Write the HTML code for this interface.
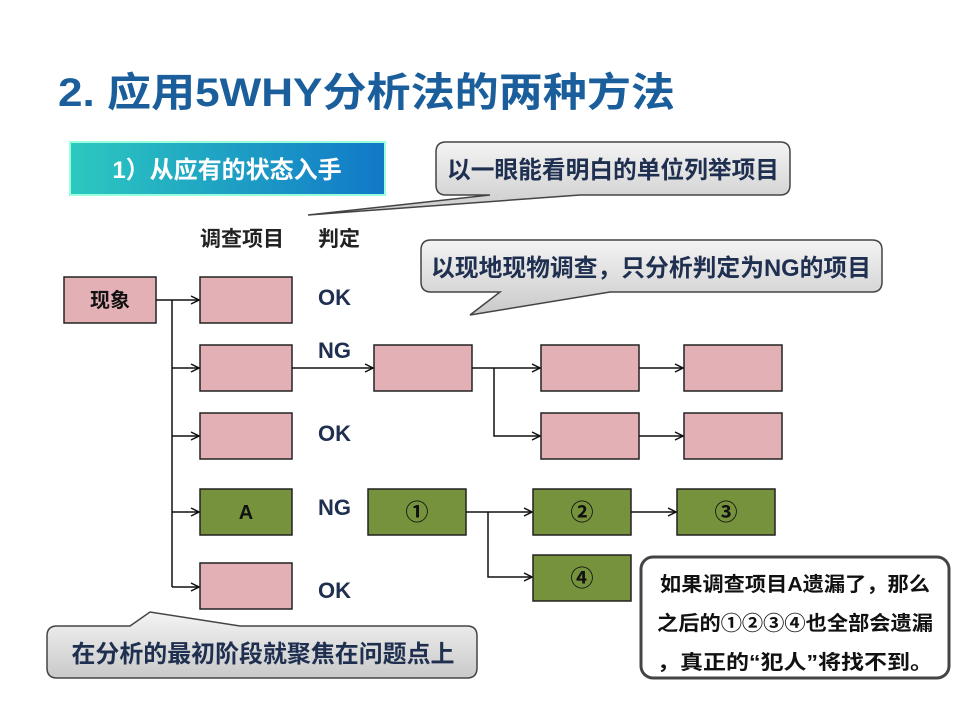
<!DOCTYPE html>
<html><head><meta charset="utf-8"><style>
html,body{margin:0;padding:0;background:#fff;}
svg{display:block;font-family:"Liberation Sans","Noto Sans CJK SC",sans-serif;font-weight:bold;}
</style></head><body>
<svg width="960" height="720" viewBox="0 0 960 720" xmlns="http://www.w3.org/2000/svg">
<defs>
<linearGradient id="teal" x1="0" y1="0" x2="1" y2="0">
<stop offset="0" stop-color="#2cc9c0"/><stop offset="1" stop-color="#1178c8"/></linearGradient>
<linearGradient id="grey" x1="0" y1="0" x2="0" y2="1">
<stop offset="0" stop-color="#f4f4f4"/><stop offset="1" stop-color="#c9c9c9"/></linearGradient>
<marker id="ar" markerWidth="10" markerHeight="10" refX="9" refY="5" orient="auto" markerUnits="userSpaceOnUse">
<path d="M1,1 L9,5 L1,9" fill="none" stroke="#111" stroke-width="1.5"/></marker>
</defs>
<text x="58" y="106" font-size="40" fill="#1b5e9c" textLength="617" lengthAdjust="spacingAndGlyphs">2. 应用5WHY分析法的两种方法</text>

<rect x="70" y="142" width="315" height="53" fill="url(#teal)" stroke="#9fd" stroke-width="2"/>
<text x="227" y="178" font-size="24" fill="#fff" text-anchor="middle">1）从应有的状态入手</text>

<path d="M446,142 H780 Q790,142 790,152 V185 Q790,195 780,195 H580 L308,215 L490,195 H446 Q436,195 436,185 V152 Q436,142 446,142 Z" fill="url(#grey)" stroke="#444" stroke-width="1.5"/>
<text x="613" y="178" font-size="24" fill="#1f2f4f" text-anchor="middle" textLength="332" lengthAdjust="spacingAndGlyphs">以一眼能看明白的单位列举项目</text>
<path d="M431,240 H872 Q882,240 882,250 V282 Q882,292 872,292 H610 L470,315 L500,292 H431 Q421,292 421,282 V250 Q421,240 431,240 Z" fill="url(#grey)" stroke="#444" stroke-width="1.5"/>
<text x="651" y="276" font-size="24" fill="#1f2f4f" text-anchor="middle" textLength="440" lengthAdjust="spacingAndGlyphs">以现地现物调查，只分析判定为NG的项目</text>

<text x="200" y="246" font-size="21" fill="#222">调查项目</text>
<text x="318" y="246" font-size="21" fill="#222">判定</text>

<g stroke="#222" stroke-width="1.5">
<rect x="64" y="277" width="92" height="46" fill="#e3b0b5"/>
<rect x="200" y="277" width="92" height="46" fill="#e3b0b5"/>
<rect x="200" y="345" width="92" height="46" fill="#e3b0b5"/>
<rect x="200" y="413" width="92" height="46" fill="#e3b0b5"/>
<rect x="200" y="489" width="92" height="46" fill="#76923c"/>
<rect x="200" y="563" width="92" height="46" fill="#e3b0b5"/>
<rect x="374" y="345" width="98" height="46" fill="#e3b0b5"/>
<rect x="541" y="345" width="98" height="46" fill="#e3b0b5"/>
<rect x="541" y="413" width="98" height="46" fill="#e3b0b5"/>
<rect x="684" y="345" width="98" height="46" fill="#e3b0b5"/>
<rect x="684" y="413" width="98" height="46" fill="#e3b0b5"/>
<rect x="368" y="489" width="98" height="46" fill="#76923c"/>
<rect x="533" y="489" width="98" height="46" fill="#76923c"/>
<rect x="677" y="489" width="98" height="46" fill="#76923c"/>
<rect x="533" y="555" width="98" height="46" fill="#76923c"/>
</g>
<g stroke="#111" stroke-width="1.5" fill="none">
<path d="M156,300 H199" marker-end="url(#ar)"/>
<path d="M172,300 V587"/>
<path d="M172,368 H199" marker-end="url(#ar)"/>
<path d="M172,436 H199" marker-end="url(#ar)"/>
<path d="M172,512 H199" marker-end="url(#ar)"/>
<path d="M172,587 H199" marker-end="url(#ar)"/>
<path d="M292,368 H373" marker-end="url(#ar)"/>
<path d="M472,368 H540" marker-end="url(#ar)"/>
<path d="M494,368 V436 H540" marker-end="url(#ar)"/>
<path d="M639,368 H683" marker-end="url(#ar)"/>
<path d="M639,436 H683" marker-end="url(#ar)"/>
<path d="M466,512 H532" marker-end="url(#ar)"/>
<path d="M488,512 V577 H532" marker-end="url(#ar)"/>
<path d="M631,512 H676" marker-end="url(#ar)"/>
</g>
<g font-size="20" fill="#111" text-anchor="middle">
<text x="110" y="307">现象</text>
<text x="246" y="519">A</text>
<text x="417" y="520" font-size="23">①</text>
<text x="582" y="520" font-size="23">②</text>
<text x="726" y="520" font-size="23">③</text>
<text x="582" y="586" font-size="23">④</text>
</g>
<g font-size="22" fill="#1f2f4f">
<text x="318" y="305">OK</text>
<text x="318" y="358">NG</text>
<text x="318" y="441">OK</text>
<text x="318" y="515">NG</text>
<text x="318" y="598">OK</text>
</g>

<path d="M57,626 L130,626 L150,612 L240,626 H467 Q477,626 477,636 V668 Q477,678 467,678 H57 Q47,678 47,668 V636 Q47,626 57,626 Z" fill="url(#grey)" stroke="#444" stroke-width="1.5"/>
<text x="263" y="662" font-size="24" fill="#1f2f4f" text-anchor="middle" textLength="383" lengthAdjust="spacingAndGlyphs">在分析的最初阶段就聚焦在问题点上</text>

<rect x="641" y="557" width="308" height="121" rx="12" fill="#fff" stroke="#444" stroke-width="3"/>
<g font-size="20" fill="#111" text-anchor="middle">
<text x="795" y="591" textLength="270" lengthAdjust="spacingAndGlyphs">如果调查项目A遗漏了，那么</text>
<text x="795" y="630" textLength="276" lengthAdjust="spacingAndGlyphs">之后的①②③④也全部会遗漏</text>
<text x="795" y="669" textLength="276" lengthAdjust="spacingAndGlyphs">，真正的“犯人”将找不到。</text>
</g>
</svg>
</body></html>
